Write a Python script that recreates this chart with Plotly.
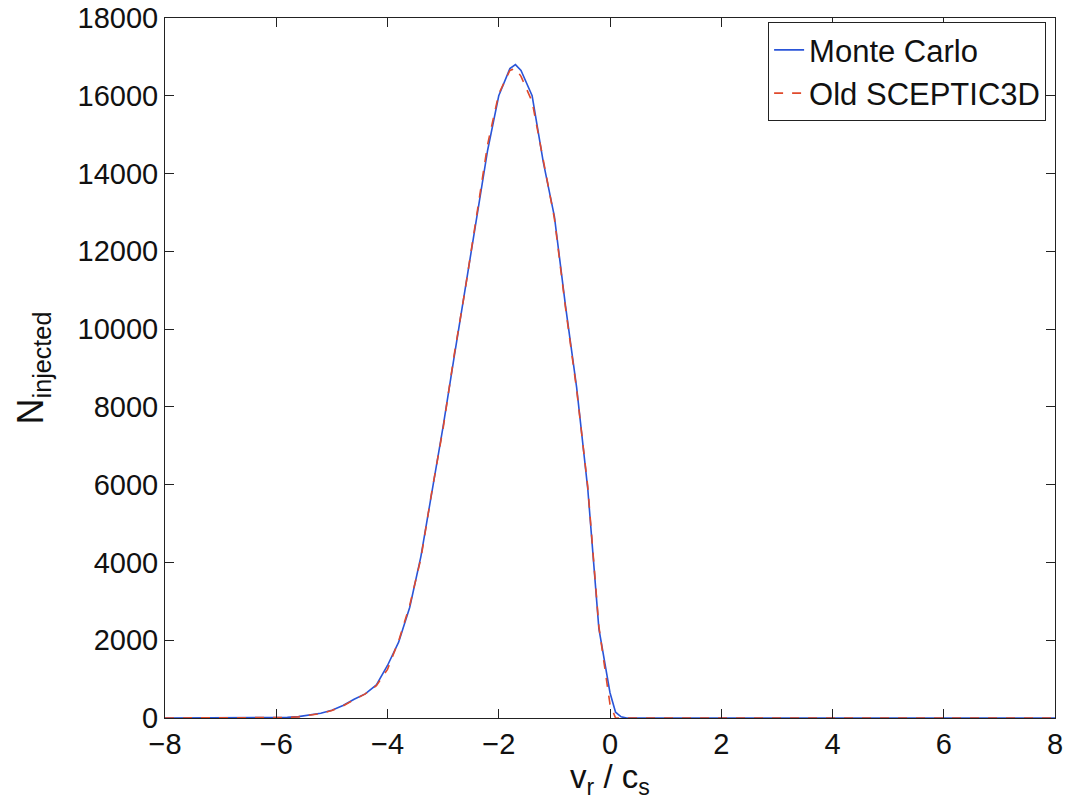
import plotly.graph_objects as go

# Radial velocity of injected particles, normalised by the sound speed
v_mc = [-8.0, -6.0, -5.8, -5.6, -5.4, -5.2, -5.0, -4.8, -4.6, -4.4, -4.2, -4.0,
        -3.8, -3.6, -3.4, -3.2, -3.0, -2.8, -2.6, -2.4, -2.2, -2.0, -1.8, -1.7,
        -1.6, -1.4, -1.2, -1.0, -0.8, -0.6, -0.4, -0.2, 0.0, 0.1, 0.2, 0.3, 8.0]
n_mc = [0, 5, 15, 35, 70, 120, 200, 320, 480, 620, 850, 1350,
        1950, 2850, 4150, 5800, 7500, 9300, 11100, 12900, 14600, 16000, 16700, 16800,
        16650, 16000, 14300, 12900, 10600, 8500, 5900, 2300, 650, 150, 30, 0, 0]

v_old = [-8.0, -6.0, -5.8, -5.6, -5.4, -5.2, -5.0, -4.8, -4.6, -4.4, -4.2, -4.0,
         -3.8, -3.6, -3.4, -3.2, -3.0, -2.8, -2.6, -2.4, -2.2, -2.0, -1.8, -1.7,
         -1.6, -1.4, -1.2, -1.0, -0.8, -0.6, -0.4, -0.2, 0.0, 0.1, 8.0]
n_old = [0, 5, 12, 30, 65, 115, 190, 310, 470, 620, 830, 1250,
         1980, 2900, 4100, 5850, 7450, 9350, 11050, 12950, 14750, 16050, 16650, 16700,
         16500, 15850, 14400, 12850, 10550, 8450, 5950, 2350, 350, 0, 0]

x_ticks = [-8, -6, -4, -2, 0, 2, 4, 6, 8]
x_labels = ["\u22128", "\u22126", "\u22124", "\u22122", "0", "2", "4", "6", "8"]
y_ticks = [0, 2000, 4000, 6000, 8000, 10000, 12000, 14000, 16000, 18000]
y_labels = ["0", "2000", "4000", "6000", "8000", "10000", "12000", "14000", "16000", "18000"]

fig = go.Figure()
fig.add_trace(go.Scatter(x=v_mc, y=n_mc, mode="lines", name="Monte Carlo",
                         line=dict(color="#2a55d8", width=1.6)))
fig.add_trace(go.Scatter(x=v_old, y=n_old, mode="lines", name="Old SCEPTIC3D",
                         line=dict(color="#e04a2c", width=1.6, dash="dash")))

axis_common = dict(showline=True, linecolor="#222222", linewidth=1, mirror="ticks",
                   ticks="inside", ticklen=9, tickcolor="#222222", showgrid=False,
                   zeroline=False, automargin=False,
                   tickfont=dict(size=29, color="#111111"))

fig.update_xaxes(range=[-8, 8], tickvals=x_ticks, ticktext=x_labels,
                 title=dict(text="v<sub>r</sub> / c<sub>s</sub>", font=dict(size=33, color="#111111"),
                            standoff=0),
                 **axis_common)
fig.update_yaxes(range=[0, 18000], tickvals=y_ticks, ticktext=y_labels,
                 title=dict(text="N<sub>injected</sub>", font=dict(size=36, color="#111111"),
                            standoff=22),
                 **axis_common)

fig.update_layout(
    width=1068, height=800,
    margin=dict(l=165, r=13, t=18, b=82),
    paper_bgcolor="white", plot_bgcolor="white",
    font=dict(family="Liberation Sans, Arial, sans-serif"),
    legend=dict(x=0.99, y=0.994, xanchor="right", yanchor="top",
                bgcolor="white", bordercolor="#222222", borderwidth=1,
                font=dict(size=31, color="#111111"), tracegroupgap=0),
    showlegend=True,
)

fig.write_html("out.html")
